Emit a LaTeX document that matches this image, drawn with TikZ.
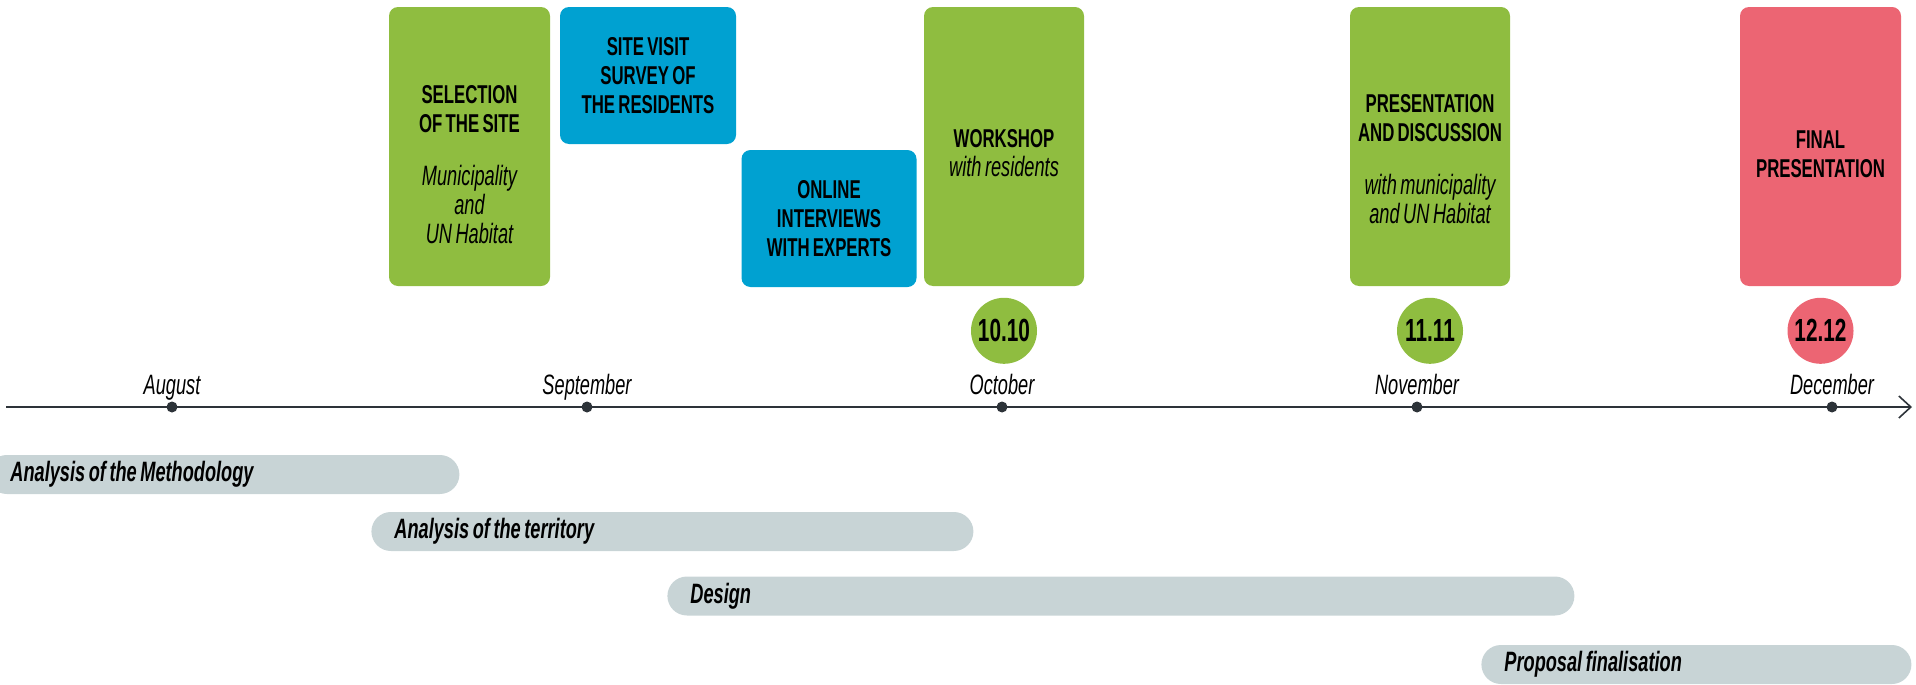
\documentclass[tikz,border=0pt]{standalone}
\usepackage{fontspec}
\setmainfont{Liberation Sans}[FakeStretch=0.65, WordSpace=0.7]
\usetikzlibrary{arrows.meta, positioning}
\usepackage{color}

\definecolor{stagegreen}{RGB}{143,189,64}
\definecolor{stageblue}{RGB}{0,161,209}
\definecolor{stagered}{RGB}{236,101,115}
\definecolor{bargray}{RGB}{200,212,214}
\definecolor{axisgray}{RGB}{45,51,57}

\newcommand{\stagenote}[1]{{\mdseries\itshape\fontsize{14}{13.5}\selectfont #1}}

\begin{document}
\begin{tikzpicture}[x=0.5pt, y=-0.5pt,
    stage/.style={rounded corners=4.5pt, inner sep=0pt, align=center,
        minimum width=80pt, font=\fontsize{12.9}{14.5}\selectfont\bfseries},
    tall/.style={stage, minimum height=139.5pt},
    short/.style={stage, minimum width=87.5pt, minimum height=68.5pt},
    caption/.style={inner sep=0pt, align=center, font=\fontsize{12.9}{14.5}\selectfont\bfseries},
    date/.style={circle, inner sep=0pt, minimum size=33pt,
        font=\fontsize{16}{16}\selectfont\bfseries},
    dot/.style={circle, fill=axisgray, inner sep=0pt, minimum size=5.5pt},
    month/.style={inner sep=0pt, text height=10pt, text depth=2.9pt,
        font=\fontsize{14}{15}\selectfont\itshape},
    bar/.style={fill=bargray, rounded corners=9.75pt, anchor=west, align=flush left,
        minimum height=19.5pt, inner ysep=0pt, inner xsep=11.5pt,
        font=\fontsize{14}{15}\selectfont\bfseries\itshape},
    axis/.style={axisgray, line width=1pt, -{Straight Barb[length=6pt, width=11pt, line width=0.8pt]}}]

    \useasboundingbox (0,0) rectangle (1916,685);

    % stages
    \node[tall, fill=stagegreen, minimum width=80.5pt] (site) at (469.5,146.5) {};
    \node[caption, below=39pt of site.north] (sitetext)
        {SELECTION\\OF THE SITE\\[12pt]\stagenote{Municipality}\\\stagenote{and}\\\stagenote{UN Habitat}};
    \node[short, fill=stageblue, minimum width=88pt] (visit) at (648,75.5)
        {SITE VISIT\\SURVEY OF\\THE RESIDENTS};
    \node[short, fill=stageblue] (online) at (829,218.5)
        {ONLINE\\INTERVIEWS\\WITH EXPERTS};
    \node[tall, fill=stagegreen] (workshop) at (1004,146.5) {};
    \node[caption, below=61pt of workshop.north] (workshoptext)
        {WORKSHOP\\\stagenote{with residents}};
    \node[tall, fill=stagegreen] (discussion) at (1430,146.5) {};
    \node[caption, below=43.5pt of discussion.north] (discussiontext)
        {PRESENTATION\\AND DISCUSSION\\[12pt]\stagenote{with municipality}\\\stagenote{and UN Habitat}};
    \node[tall, fill=stagered, minimum width=80.5pt] (final) at (1820.5,146.5) {};
    \node[caption, below=62pt of final.north] (finaltext)
        {FINAL\\PRESENTATION};

    % dates
    \node[date, fill=stagegreen, below=5.5pt of workshop] (d10) {10.10};
    \node[date, fill=stagegreen, below=5.5pt of discussion] (d11) {11.11};
    \node[date, fill=stagered, below=5.5pt of final] (d12) {12.12};

    % time axis
    \coordinate (start) at (6,407);
    \coordinate (end) at (1912,407);
    \draw[axis] (start) -- (end);

    \node[dot] (m8) at (172,407) {};
    \node[dot] (m9) at (587,407) {};
    \node[dot] (m10) at (1002,407) {};
    \node[dot] (m11) at (1417,407) {};
    \node[dot] (m12) at (1832,407) {};

    \node[month, above=0pt of m8] (aug) {August};
    \node[month, above=0pt of m9] (sep) {September};
    \node[month, above=0pt of m10] (oct) {October};
    \node[month, above=0pt of m11] (nov) {November};
    \node[month, above=0pt of m12] (dec) {December};

    % phases
    \node[bar, text width=213pt] (method) at (-13,474.5) {Analysis of the Methodology};
    \node[bar, text width=278pt] (territory) at (371,531.5) {Analysis of the territory};
    \node[bar, text width=430.5pt] (design) at (667,596) {Design};
    \node[bar, text width=192pt] (proposal) at (1481,664.5) {Proposal finalisation};

\end{tikzpicture}
\end{document}
